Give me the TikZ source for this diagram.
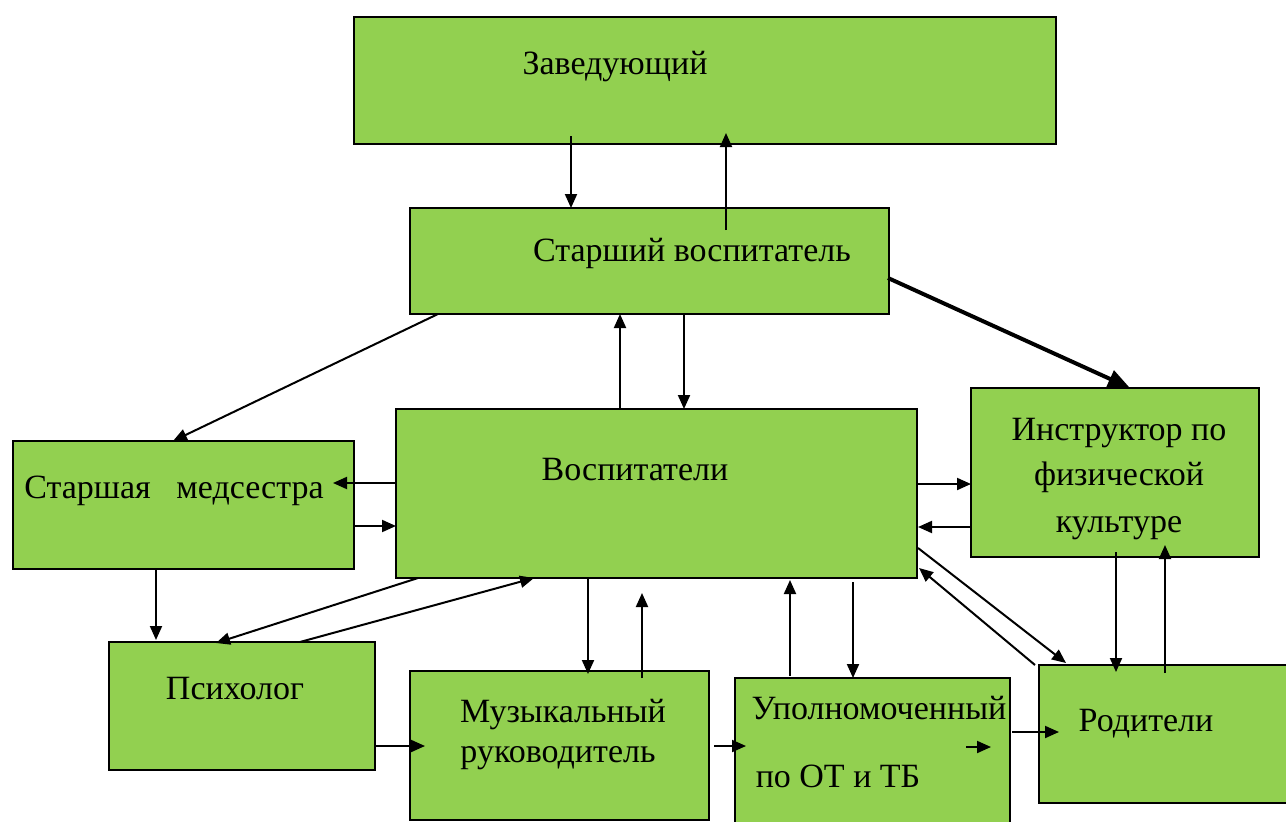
\documentclass[tikz,border=0pt]{standalone}
\usepackage{fontspec}
\setmainfont{Liberation Serif}
\usetikzlibrary{arrows.meta,calc}
\definecolor{boxgreen}{HTML}{92D050}
\tikzset{
  box/.style={draw=black, line width=1.8pt, fill=boxgreen, rectangle, anchor=north west, inner sep=0pt, outer sep=0pt},
  lbl/.style={anchor=base, inner sep=0pt, font=\fontsize{34}{41}\selectfont},
  arr/.style={line width=2pt, -{Triangle[length=14pt,width=12pt]}},
  bigarr/.style={line width=4pt, -{Triangle[length=22pt,width=18pt]}}
}
\begin{document}
\begin{tikzpicture}[x=1pt,y=-1pt]
\useasboundingbox (0,0) rectangle (1286,822);
% boxes
\node[box, minimum width=702pt, minimum height=127pt] (zav) at (354,17) {};
\node[box, minimum width=479pt, minimum height=106pt] (star) at (410,208) {};
\node[box, minimum width=521pt, minimum height=169pt] (vosp) at (396,409) {};
\node[box, minimum width=341pt, minimum height=128pt] (med) at (13,441) {};
\node[box, minimum width=288pt, minimum height=169pt] (instr) at (971,388) {};
\node[box, minimum width=266pt, minimum height=128pt] (psy) at (109,642) {};
\node[box, minimum width=299pt, minimum height=149pt] (muz) at (410,671) {};
\node[box, minimum width=275pt, minimum height=150pt] (upol) at (735,678) {};
\node[box, minimum width=248pt, minimum height=138pt] (rod) at (1039,665) {};
% labels
\node[lbl] (tzav) at (615,74) {Заведующий};
\node[lbl] (tstar) at (692,261) {Старший воспитатель};
\node[lbl] (tvosp) at (635,480) {Воспитатели};
\node[lbl] (tmed) at (174,498) {Старшая\ \ \ медсестра};
\node[lbl] (tinstr1) at (1119,440) {Инструктор по};
\node[lbl] (tinstr2) at (1119,485) {физической};
\node[lbl] (tinstr3) at (1119,532) {культуре};
\node[lbl] (tpsy) at (235,699) {Психолог};
\node[lbl] (tmuz1) at (563,722) {Музыкальный};
\node[lbl] (tmuz2) at (558,762) {руководитель};
\node[lbl] (tupol1) at (879,719) {Уполномоченный};
\node[lbl] (tupol2) at (838,787) {по ОТ и ТБ};
\node[lbl] (trod) at (1146,731) {Родители};
% connectors
\draw[arr] ($(zav.north west)+(217,119)$) -- ($(star.north west)+(161,0)$);
\draw[arr] ($(star.north west)+(316,22)$) -- ($(zav.north west)+(372,116)$);
\draw[arr] ($(star.north west)+(28,106)$) -- ($(med.north west)+(160,0)$);
\draw[bigarr] ($(star.north west)+(478,70)$) -- ($(instr.north west)+(159,0)$);
\draw[arr] ($(vosp.north west)+(224,0)$) -- ($(star.north west)+(210,106)$);
\draw[arr] ($(star.north west)+(274,106)$) -- ($(vosp.north west)+(288,0)$);
\draw[arr] ($(vosp.north west)+(0,74)$) -- ($(med.north west)+(320,42)$);
\draw[arr] ($(med.north west)+(341,85)$) -- ($(vosp.north west)+(0,117)$);
\draw[arr] ($(med.north west)+(143,128)$) -- ($(psy.north west)+(47,-2)$);
\draw[arr] ($(vosp.north west)+(22,169)$) -- ($(psy.north west)+(107,1)$);
\draw[arr] ($(psy.north west)+(191,0)$) -- ($(vosp.north west)+(138,169)$);
\draw[arr] ($(psy.north west)+(267,104)$) -- ($(muz.north west)+(15,75)$);
\draw[arr] ($(vosp.north west)+(192,169)$) -- ($(muz.north west)+(178,3)$);
\draw[arr] ($(muz.north west)+(232,7)$) -- ($(vosp.north west)+(246,184)$);
\draw[arr] ($(muz.north west)+(304,75)$) -- ($(upol.north west)+(11,68)$);
\draw[arr] ($(upol.north west)+(231,69)$) -- ($(upol.north west)+(256,69)$);
\draw[arr] ($(upol.north west)+(55,-2)$) -- ($(vosp.north west)+(394,171)$);
\draw[arr] ($(vosp.north west)+(457,173)$) -- ($(upol.north west)+(118,0)$);
\draw[arr] ($(upol.north west)+(277,54)$) -- ($(rod.north west)+(20,67)$);
\draw[arr] ($(vosp.north west)+(522,139)$) -- ($(rod.north west)+(27,-2)$);
\draw[arr] ($(rod.north west)+(-4,0)$) -- ($(vosp.north west)+(523,159)$);
\draw[arr] ($(vosp.north west)+(521,75)$) -- ($(instr.north west)+(0,96)$);
\draw[arr] ($(instr.north west)+(0,139)$) -- ($(vosp.north west)+(522,118)$);
\draw[arr] ($(instr.north west)+(145,164)$) -- ($(rod.north west)+(77,7)$);
\draw[arr] ($(rod.north west)+(126,8)$) -- ($(instr.north west)+(194,157)$);
\end{tikzpicture}
\end{document}
